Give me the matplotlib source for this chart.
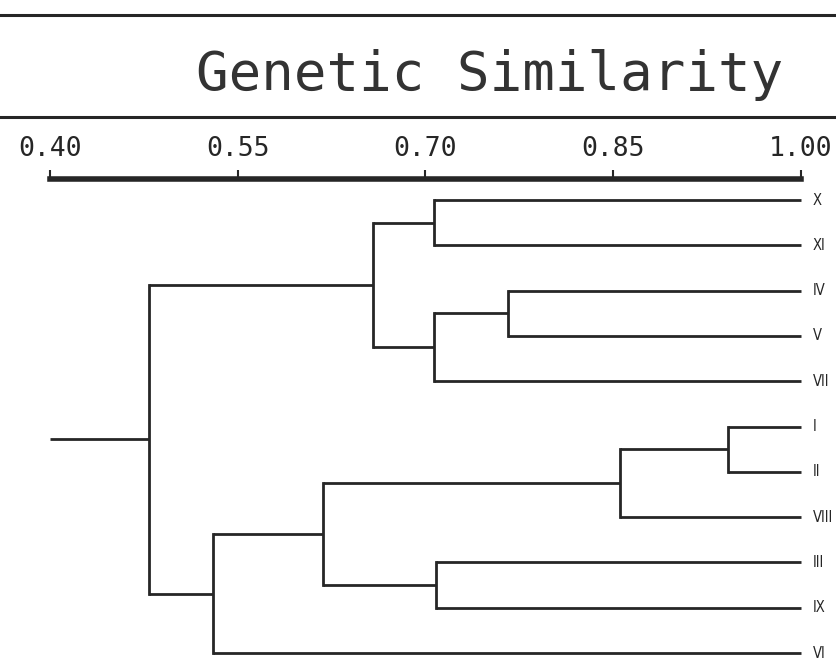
import matplotlib.pyplot as plt

# leaves, top to bottom
leaves = ["X", "XI", "IV", "V", "VII", "I", "II", "VIII", "III", "IX", "VI"]

# merges: (left, right, similarity); ints are leaf indices, "n0".. are earlier merges
merges = [
    (0, 1, 0.707),          # n0 X-XI
    (2, 3, 0.766),          # n1 IV-V
    ("n1", 4, 0.707),       # n2 +VII
    ("n0", "n2", 0.658),    # n3
    (5, 6, 0.942),          # n4 I-II
    ("n4", 7, 0.855),       # n5 +VIII
    (8, 9, 0.708),          # n6 III-IX
    ("n5", "n6", 0.618),    # n7
    ("n7", 10, 0.530),      # n8 +VI
    ("n3", "n8", 0.479),    # n9 root
]
root_start = 0.40
leaf_end = 1.00

ticks = [0.40, 0.55, 0.70, 0.85, 1.00]
tick_labels = ["0.40", "0.55", "0.70", "0.85", "1.00"]
title = "Genetic Similarity"

W, H = 837, 659
fig = plt.figure(figsize=(W / 100, H / 100), dpi=100)
ax = fig.add_axes([0, 0, 1, 1])

# 0.40 -> 50px, 1.00 -> 801px ; leaf 0 -> 200px, leaf 10 -> 653px
upp = 0.6 / 751
ax.set_xlim(0.40 - 50 * upp, 1.00 + (W - 801) * upp)
step = (653 - 200) / 10
ax.set_ylim(10 + (H - 653) / step, -200 / step)

col = "#262626"
lw = 2.0

pos = {}
for i, name in enumerate(leaves):
    pos[i] = (leaf_end, i)

for n, (a, b, s) in enumerate(merges):
    xa, ya = pos[a]
    xb, yb = pos[b]
    ax.plot([xa, s], [ya, ya], color=col, lw=lw, solid_capstyle="butt")
    ax.plot([xb, s], [yb, yb], color=col, lw=lw, solid_capstyle="butt")
    ax.plot([s, s], [ya, yb], color=col, lw=lw, solid_capstyle="projecting")
    pos["n%d" % n] = (s, (ya + yb) / 2)

rx, ry = pos["n%d" % (len(merges) - 1)]
ax.plot([root_start, rx], [ry, ry], color=col, lw=lw, solid_capstyle="butt")

for i, name in enumerate(leaves):
    ax.text(leaf_end + 12 * upp, i, name, fontsize=10.5, va="center", ha="left",
            color=col, family="DejaVu Sans", fontstretch="condensed")

# scale bar on top
ax.spines["top"].set_position(("data", (179 - 200) / step))
ax.spines["top"].set_bounds(ticks[0], ticks[-1])
ax.spines["top"].set_linewidth(4)
ax.spines["top"].set_color(col)
for s in ["bottom", "left", "right"]:
    ax.spines[s].set_visible(False)
ax.xaxis.tick_top()
ax.set_xticks(ticks)
ax.set_xticklabels(tick_labels, family="DejaVu Sans Mono", fontsize=19, color=col)
ax.tick_params(axis="x", direction="out", length=6.5, width=1.5, color=col, pad=6)
ax.set_yticks([])

# title with rules
fig.add_artist(plt.Line2D([0, 1], [1 - 15 / H, 1 - 15 / H], color=col, lw=2.2))
fig.add_artist(plt.Line2D([0, 1], [1 - 117 / H, 1 - 117 / H], color=col, lw=2.2))
fig.text(490 / W, 1 - 90 / H, title, family="DejaVu Sans Mono", fontsize=39,
         ha="center", va="baseline", color="#333333")

fig.savefig("out.png", dpi=100, facecolor="white")
